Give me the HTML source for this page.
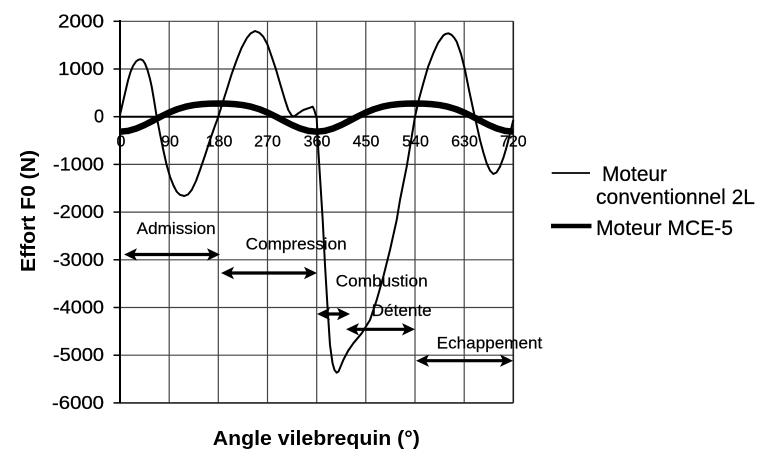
<!DOCTYPE html>
<html><head><meta charset="utf-8"><style>
html,body{margin:0;padding:0;background:#fff;}
svg{display:block;}
text{font-family:"Liberation Sans",Arial,sans-serif;fill:#000;}
</style></head><body>
<svg width="768" height="467" viewBox="0 0 768 467" xmlns="http://www.w3.org/2000/svg">
<rect width="768" height="467" fill="#fff"/>
<!-- grid -->
<g stroke="#444" stroke-width="1.2" fill="none">
<line x1="120" y1="21.3" x2="513.3" y2="21.3"/>
<line x1="120" y1="69" x2="513.3" y2="69"/>
<line x1="120" y1="164.4" x2="513.3" y2="164.4"/>
<line x1="120" y1="212.1" x2="513.3" y2="212.1"/>
<line x1="120" y1="259.8" x2="513.3" y2="259.8"/>
<line x1="120" y1="307.5" x2="513.3" y2="307.5"/>
<line x1="120" y1="355.2" x2="513.3" y2="355.2"/>
<line x1="169.2" y1="21.3" x2="169.2" y2="402.9"/>
<line x1="218.3" y1="21.3" x2="218.3" y2="402.9"/>
<line x1="267.5" y1="21.3" x2="267.5" y2="402.9"/>
<line x1="316.7" y1="21.3" x2="316.7" y2="402.9"/>
<line x1="365.8" y1="21.3" x2="365.8" y2="402.9"/>
<line x1="415" y1="21.3" x2="415" y2="402.9"/>
<line x1="464.2" y1="21.3" x2="464.2" y2="402.9"/>
</g>
<g stroke="#222" stroke-width="1.6" fill="none">
<line x1="513.3" y1="21.3" x2="513.3" y2="402.9"/>
<line x1="120" y1="402.9" x2="513.3" y2="402.9"/>
</g>
<!-- axes -->
<line x1="120" y1="116.7" x2="513.3" y2="116.7" stroke="#000" stroke-width="2"/>
<line x1="120" y1="20" x2="120" y2="403.5" stroke="#000" stroke-width="2"/>
<g stroke="#000" stroke-width="1.5">
<line x1="113.5" y1="21.3" x2="120" y2="21.3"/>
<line x1="113.5" y1="69" x2="120" y2="69"/>
<line x1="113.5" y1="116.7" x2="120" y2="116.7"/>
<line x1="113.5" y1="164.4" x2="120" y2="164.4"/>
<line x1="113.5" y1="212.1" x2="120" y2="212.1"/>
<line x1="113.5" y1="259.8" x2="120" y2="259.8"/>
<line x1="113.5" y1="307.5" x2="120" y2="307.5"/>
<line x1="113.5" y1="355.2" x2="120" y2="355.2"/>
<line x1="113.5" y1="402.9" x2="120" y2="402.9"/>
</g>
<!-- y tick labels -->
<g font-size="18" text-anchor="end" stroke="#000" stroke-width="0.25">
<text x="104" y="27.3" textLength="46" lengthAdjust="spacingAndGlyphs">2000</text>
<text x="104" y="75" textLength="46" lengthAdjust="spacingAndGlyphs">1000</text>
<text x="104" y="122.7">0</text>
<text x="104" y="170.4" textLength="51" lengthAdjust="spacingAndGlyphs">-1000</text>
<text x="104" y="218.1" textLength="51" lengthAdjust="spacingAndGlyphs">-2000</text>
<text x="104" y="265.8" textLength="51" lengthAdjust="spacingAndGlyphs">-3000</text>
<text x="104" y="313.5" textLength="51" lengthAdjust="spacingAndGlyphs">-4000</text>
<text x="104" y="361.2" textLength="51" lengthAdjust="spacingAndGlyphs">-5000</text>
<text x="104" y="408.9" textLength="52" lengthAdjust="spacingAndGlyphs">-6000</text>
</g>
<!-- x tick labels -->
<g font-size="16" text-anchor="middle" stroke="#000" stroke-width="0.25">
<text x="121" y="146.5">0</text>
<text x="170" y="146.5">90</text>
<text x="219" y="146.5">180</text>
<text x="267.5" y="146.5">270</text>
<text x="317" y="146.5">360</text>
<text x="366" y="146.5">450</text>
<text x="415.5" y="146.5">540</text>
<text x="464.5" y="146.5">630</text>
<text x="513.3" y="146.5">720</text>
</g>
<!-- MCE-5 thick curve -->
<polyline fill="none" stroke="#000" stroke-width="6.5" stroke-linejoin="round" stroke-linecap="butt" points="120,131.7 128.19,130.88 136.39,128.53 144.58,125.02 152.78,120.83 160.97,116.49 169.17,112.5 177.36,109.19 185.56,106.73 193.75,105.08 201.95,104.11 210.14,103.64 218.33,103.5 226.53,103.64 234.72,104.11 242.92,105.08 251.11,106.73 259.31,109.19 267.5,112.5 275.7,116.49 283.89,120.83 292.08,125.02 300.28,128.53 308.47,130.88 316.67,131.7 324.86,130.88 333.06,128.53 341.25,125.02 349.45,120.83 357.64,116.49 365.83,112.5 374.03,109.19 382.22,106.73 390.42,105.08 398.61,104.11 406.81,103.64 415,103.5 423.2,103.64 431.39,104.11 439.58,105.08 447.78,106.73 455.97,109.19 464.17,112.5 472.36,116.49 480.56,120.83 488.75,125.02 496.95,128.53 505.14,130.88 513.33,131.7"/>
<!-- conventional curve -->
<polyline fill="none" stroke="#000" stroke-width="2" stroke-linejoin="round" points="120,115 122.5,104 125,93.3 128,80.5 130.5,72 133,66 136,61.5 138.5,59.7 140.7,59.3 143,60.5 145,63.5 147.5,70 150,79 151.7,86.7 154,100 156.7,116.7 160,134 163.3,150 166.5,164.5 170,176.7 173.5,185.5 176.7,191.7 180,194.8 184.3,196 188,194.5 191.7,190 196,181 200,170 205,155.5 210,140 214,128.5 218.3,116.7 222.5,103 226.7,90 231.5,74.5 236.7,60 241.5,48 246.7,38.3 250.5,33.5 255,31 259.5,32.8 263.3,36.7 267.5,44.5 271.7,56.7 276,69.5 280,83.3 285,100 288.3,110 291.7,115.5 294,116.5 298.3,113.3 303.3,110 310,107.7 312.7,106.7 314.3,110 316.7,118.3 318.3,150 320.5,185 322.7,220 325,265 327.7,310 330,345 332.5,363 334.5,370 336.7,372.7 338.5,371.5 340,368 343.3,360 348,351 353.3,343.3 361.7,333.3 370,320 376.7,300 383.3,276.7 390,250 396.7,220 400,200 406.7,166.7 411,141 415,116.7 419,99 423.3,83.3 428,67 433.3,53.3 438,43 443.3,35.5 445.5,34 448.3,33.3 451.5,34.8 454,37.5 456.7,41.7 461,54 465,70 469,90 473.3,110 477,126.5 480,140 483.5,153 486.7,163.3 490,170.5 493.3,174 496.5,172.5 500,166.7 503.5,157.5 506.7,146.7 510,133.5 513.3,120"/>
<!-- arrows -->
<g stroke="#000" stroke-width="3.2">
<line x1="132" y1="254.5" x2="212" y2="254.5"/>
<line x1="229" y1="273" x2="309" y2="273"/>
<line x1="325" y1="314" x2="342" y2="314"/>
<line x1="354" y1="329.3" x2="407" y2="329.3"/>
<line x1="424" y1="360.7" x2="505" y2="360.7"/>
</g>
<g fill="#000">
<polygon points="124,254.5 137,248.3 134,254.5 137,260.7"/>
<polygon points="220,254.5 207,248.3 210,254.5 207,260.7"/>
<polygon points="221,273 234,266.8 231,273 234,279.2"/>
<polygon points="317,273 304,266.8 307,273 304,279.2"/>
<polygon points="317,314 330,307.8 327,314 330,320.2"/>
<polygon points="350,314 337,307.8 340,314 337,320.2"/>
<polygon points="346,329.3 359,323.1 356,329.3 359,335.5"/>
<polygon points="415,329.3 402,323.1 405,329.3 402,335.5"/>
<polygon points="416,360.7 429,354.5 426,360.7 429,366.9"/>
<polygon points="513,360.7 500,354.5 503,360.7 500,366.9"/>
</g>
<!-- annotation labels -->
<g font-size="17" stroke="#000" stroke-width="0.2">
<text x="136.7" y="234" textLength="79" lengthAdjust="spacingAndGlyphs">Admission</text>
<text x="245.7" y="249.3" textLength="101" lengthAdjust="spacingAndGlyphs">Compression</text>
<text x="335.7" y="286.7" textLength="92" lengthAdjust="spacingAndGlyphs">Combustion</text>
<text x="371.7" y="316" textLength="60" lengthAdjust="spacingAndGlyphs">Détente</text>
<text x="436.7" y="348.7" textLength="105.6" lengthAdjust="spacingAndGlyphs">Echappement</text>
</g>
<!-- legend -->
<line x1="551.7" y1="173" x2="590" y2="173" stroke="#000" stroke-width="1.8"/>
<line x1="551" y1="226" x2="591.5" y2="226" stroke="#000" stroke-width="4.5"/>
<g font-size="21" stroke="#000" stroke-width="0.2">
<text x="602" y="181" textLength="65" lengthAdjust="spacingAndGlyphs">Moteur</text>
<text x="596" y="204" textLength="159" lengthAdjust="spacingAndGlyphs">conventionnel 2L</text>
<text x="596" y="235" textLength="137" lengthAdjust="spacingAndGlyphs">Moteur MCE-5</text>
</g>
<!-- axis titles -->
<text x="316.3" y="445" font-size="20" font-weight="bold" text-anchor="middle" textLength="207" lengthAdjust="spacingAndGlyphs">Angle vilebrequin (°)</text>
<text transform="translate(35,211) rotate(-90)" x="0" y="0" font-size="20" font-weight="bold" text-anchor="middle" textLength="122" lengthAdjust="spacingAndGlyphs">Effort F0 (N)</text>
</svg>
</body></html>
